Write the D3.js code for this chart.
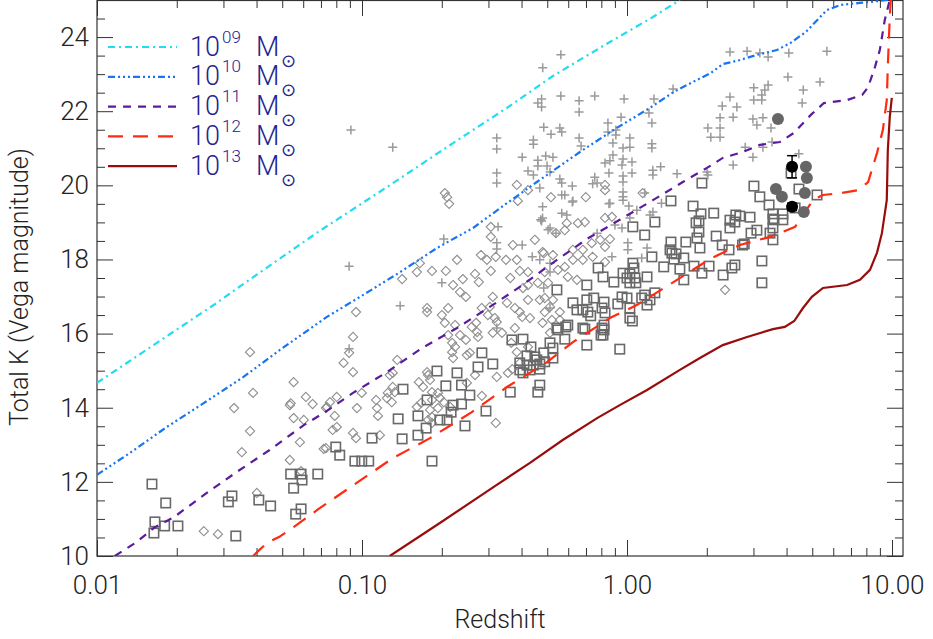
<!DOCTYPE html>
<html>
<head>
<meta charset="utf-8">
<script src="https://cdn.jsdelivr.net/npm/d3@7"></script>
<style>
  body { margin: 0; background: #fff; }
  svg text { font-family: Roboto, "DejaVu Sans", sans-serif; font-weight: 300; }
</style>
</head>
<body>
<svg id="chart" width="933" height="639"></svg>
<script>
// Redshift / total K magnitude samples.
const diamonds = [
  [0.0378,15.50],[0.0552,14.69],[0.0388,14.40],[0.0329,13.99],[0.0614,14.29],[0.0651,14.10],[0.0534,14.07],[0.0538,14.12],
  [0.0552,13.72],[0.0603,13.67],[0.0731,13.99],[0.0378,13.37],[0.0583,13.07],[0.0352,12.80],[0.0717,12.89],[0.0534,12.59],
  [0.0589,12.29],[0.0401,11.70],[0.0253,10.67],[0.0286,10.59],[0.2054,19.79],[0.2095,19.68],[0.2132,19.50],[0.3839,20.01],
  [0.423,19.87],[0.3871,19.58],[0.5164,19.68],[0.699,19.68],[0.826,20.01],[0.826,19.87],[0.826,19.12],[0.5925,18.98],
  [0.6529,18.98],[0.3062,18.88],[0.3062,18.61],[0.3198,18.07],[0.296,17.99],[0.2811,18.12],[0.2283,17.99],[0.1653,17.90],
  [0.1611,17.66],[0.1837,17.69],[0.2072,17.69],[0.1417,17.47],[0.2401,17.47],[0.267,17.61],[0.2759,17.39],[0.3062,17.69],
  [0.3493,17.99],[0.3839,17.99],[0.3707,18.39],[0.4491,18.53],[0.4851,18.17],[0.3939,17.69],[0.423,17.66],[0.3626,17.50],
  [0.2206,17.31],[0.2343,17.12],[0.2466,16.99],[0.3115,16.99],[0.2829,16.69],[0.3036,16.72],[0.3524,16.83],[0.3774,16.69],
  [0.423,16.91],[0.4049,17.23],[0.423,17.31],[0.4608,17.37],[0.4687,16.91],[0.3939,16.58],[0.4022,16.45],[0.4303,16.42],
  [0.0949,16.58],[0.176,16.69],[0.176,16.58],[0.2113,16.69],[0.2001,16.50],[0.2054,16.29],[0.2245,16.23],[0.2694,16.29],
  [0.2595,16.18],[0.2985,16.50],[0.317,16.42],[0.3225,16.31],[0.3115,16.02],[0.3375,16.02],[0.2717,16.04],[0.2113,15.96],
  [0.2343,15.96],[0.2466,15.83],[0.2188,15.75],[0.2245,15.64],[0.274,15.91],[0.3774,16.15],[0.3659,15.75],[0.3839,15.50],
  [0.2487,15.42],[0.2552,15.48],[0.2206,15.34],[0.2188,15.50],[0.423,15.64],[0.0925,15.91],[0.0894,15.48],[0.0852,15.21],
  [0.0925,14.96],[0.1358,15.29],[0.1306,14.94],[0.1273,14.88],[0.1639,14.69],[0.176,14.96],[0.1776,14.88],[0.1806,14.75],
  [0.17,14.56],[0.1837,14.42],[0.1934,14.40],[0.1967,14.26],[0.1837,14.21],[0.2035,14.15],[0.1672,14.13],[0.1611,14.02],
  [0.1806,13.94],[0.1837,13.75],[0.1934,13.99],[0.2151,14.02],[0.2834,14.32],[0.2487,14.67],[0.267,14.88],[0.3225,14.83],
  [0.3554,14.94],[0.3691,15.04],[0.3939,15.21],[0.1306,14.56],[0.133,14.42],[0.1251,14.40],[0.1241,14.26],[0.1295,14.15],
  [0.113,14.21],[0.1139,13.99],[0.1149,13.78],[0.0957,13.99],[0.0998,14.40],[0.0803,14.29],[0.0757,14.15],[0.0737,14.02],
  [0.0789,13.78],[0.0803,13.48],[0.0775,13.40],[0.0925,13.32],[0.0949,13.18],[0.1168,13.26],[0.1776,13.67],[0.1837,13.59],
  [0.3198,13.59],[0.0731,12.91],[0.8769,19.15],[0.6931,19.01],[0.5824,18.79],[0.5392,18.71],[0.8619,18.55],[0.792,18.53],
  [0.826,18.34],[0.736,18.44],[0.6813,18.26],[0.625,18.26],[0.625,17.99],[0.6813,17.99],[0.7418,18.07],[0.826,17.93],
  [0.4802,18.20],[0.5253,18.12],[0.5486,17.72],[0.5824,17.80],[0.4892,17.66],[0.5977,17.53],[0.6473,17.45],[0.5035,17.37],
  [0.4892,16.96],[0.5253,16.91],[0.5121,16.72],[0.5579,16.58],[0.4892,16.58],[0.5208,16.37],[0.5579,16.37],[0.4802,16.29],
  [0.5121,16.02],[2.344,17.18],[1.146,19.79]
];

const squares = [
  [0.01612,11.94],[0.01817,11.43],[0.01654,10.92],[0.0164,10.62],[0.0180,10.81],[0.0202,10.81],[0.0323,11.62],[0.0313,11.46],
  [0.0408,11.51],[0.0452,11.35],[0.0334,10.54],[0.0538,12.21],[0.0589,12.21],[0.0594,12.05],[0.0552,11.83],[0.0681,12.21],
  [0.0589,11.27],[0.0562,11.13],[0.3678,15.83],[0.4049,15.85],[0.434,15.64],[0.5121,15.75],[0.5253,15.61],[0.5438,16.15],
  [0.4851,15.48],[0.5253,15.34],[0.4491,15.37],[0.4194,15.40],[0.3939,15.21],[0.4194,15.15],[0.4433,15.15],[0.4687,15.18],
  [0.3939,15.02],[0.4303,15.02],[0.4687,15.04],[0.4049,14.94],[0.2834,15.48],[0.274,15.10],[0.3115,15.18],[0.1918,14.99],
  [0.2283,14.94],[0.2072,14.59],[0.2374,14.61],[0.2552,14.34],[0.2374,14.10],[0.2206,14.07],[0.2169,13.88],[0.2095,13.67],
  [0.1967,13.67],[0.176,14.21],[0.1428,14.50],[0.1626,13.78],[0.1746,13.45],[0.1369,13.70],[0.1626,13.26],[0.1417,13.16],
  [0.1091,13.18],[0.2447,13.51],[0.2936,13.91],[0.3626,14.42],[0.4687,14.61],[0.4608,14.42],[0.0796,12.94],[0.0824,12.72],
  [0.094,12.56],[0.0998,12.56],[0.106,12.56],[0.1837,12.56],[0.5824,15.85],[0.5977,16.23],[0.6931,16.12],[0.7052,15.69],
  [0.798,15.96],[0.819,16.23],[0.819,16.10],[0.939,15.58],[1.048,16.34],[0.4569,15.29],[1.917,20.06],[3.012,19.98],
  [1.465,19.58],[1.775,19.44],[3.171,19.69],[3.436,19.47],[1.901,19.23],[2.124,19.25],[1.822,18.99],[1.868,19.04],
  [2.446,19.06],[2.574,19.20],[2.912,19.14],[3.553,19.23],[3.553,19.09],[1.274,19.01],[1.052,18.88],[2.446,18.85],
  [3.091,18.79],[2.937,18.71],[1.868,18.74],[1.837,18.58],[1.166,18.66],[1.465,18.47],[1.667,18.47],[2.17,18.63],
  [2.287,18.39],[2.727,18.39],[2.77,18.42],[3.464,18.71],[3.553,18.53],[1.884,18.31],[1.453,18.26],[1.477,18.17],
  [1.531,18.15],[1.503,18.01],[1.638,18.04],[2.426,18.26],[3.228,17.96],[2.553,17.85],[2.487,17.77],[2.305,17.58],
  [2.04,17.82],[1.917,17.63],[1.79,17.82],[1.583,17.74],[1.376,17.80],[1.241,18.07],[1.052,17.90],[1.062,17.77],
  [0.966,17.63],[1.025,17.61],[1.0,17.50],[1.071,17.50],[1.025,17.37],[1.08,17.37],[0.892,17.39],[0.812,17.53],
  [0.7052,17.31],[0.778,17.77],[1.19,17.53],[1.638,17.45],[3.228,17.37],[0.5438,17.18],[0.7052,16.91],[0.749,16.96],
  [0.819,16.85],[1.0,16.96],[0.9575,16.99],[1.166,17.04],[1.274,17.10],[1.136,16.96],[1.221,16.91],[1.19,16.77],
  [0.9232,16.80],[1.025,16.69],[0.625,16.83],[0.6473,16.64],[0.6813,16.64],[0.7116,16.58],[0.8047,16.69],[0.826,16.56],
  [0.7293,16.48],[1.025,16.42],[0.6813,16.15],[0.8047,16.15],[0.812,15.96],[0.5875,16.18],[0.5486,16.10],[0.4892,15.24],
  [4.159,20.33],[4.454,19.90],[5.213,19.74],[3.873,19.23],[3.588,19.07],[3.873,19.07],[2.665,19.17],[2.553,19.01],
  [3.553,18.85],[4.308,19.39]
];

const pluses = [
  [0.0908,21.49],[0.1306,21.03],[0.5627,23.52],[0.4807,23.17],[0.5627,22.41],[0.4761,22.33],[0.4608,22.22],[0.4761,22.11],
  [0.6595,22.28],[0.7556,22.41],[0.6595,21.98],[0.4851,21.57],[0.5579,21.55],[0.5671,21.44],[0.5167,21.38],[0.3225,21.28],
  [0.3225,20.98],[0.4433,21.22],[0.4433,21.11],[0.6595,21.28],[0.6709,21.06],[0.8472,21.68],[0.9075,21.49],[0.8847,21.14],
  [0.8847,20.82],[0.4022,20.76],[0.4608,20.68],[0.4934,20.79],[0.5253,20.76],[0.4608,20.52],[0.4992,20.52],[0.423,20.39],
  [0.4433,20.28],[0.5121,20.36],[0.3225,20.33],[0.3225,20.06],[0.5579,20.17],[0.5671,20.06],[0.6216,19.98],[0.7556,20.22],
  [0.7712,20.06],[0.8258,20.60],[0.8619,20.66],[0.8547,20.33],[0.5824,19.74],[0.6216,19.55],[0.8619,19.52],[0.4802,19.42],
  [0.4761,19.04],[0.5671,19.25],[0.5925,19.20],[0.3262,18.88],[0.5121,18.85],[2.446,23.60],[2.838,23.62],[3.171,23.57],
  [3.407,23.46],[4.08,23.57],[4.047,22.92],[1.492,22.60],[0.9747,22.33],[1.264,22.33],[1.21,21.95],[1.241,21.68],
  [0.9498,21.84],[0.8472,21.44],[0.9075,21.36],[1.025,21.28],[1.025,21.03],[0.9658,21.01],[1.241,21.12],[1.241,21.01],
  [0.9658,20.71],[1.044,20.63],[0.9573,20.55],[1.044,20.33],[0.9658,20.25],[0.9658,20.09],[1.252,20.41],[1.339,20.50],
  [1.252,20.28],[1.544,20.31],[2.002,20.36],[2.019,20.28],[0.9658,19.82],[0.9658,19.69],[2.514,20.55],[2.792,21.03],
  [2.986,20.76],[3.257,21.03],[3.526,21.17],[3.008,22.63],[3.407,22.71],[3.311,22.57],[3.224,22.44],[3.008,22.30],
  [3.224,22.30],[2.446,22.38],[2.287,22.14],[2.597,22.11],[2.514,21.84],[2.244,21.82],[2.019,21.55],[2.244,21.55],
  [2.071,21.30],[2.244,21.30],[2.986,21.79],[3.257,21.82],[3.091,21.63],[3.494,21.55],[5.679,23.62],[5.346,22.79],
  [4.624,22.57],[4.58,22.22],[4.45,20.85],[0.0894,17.82],[0.2035,18.55],[0.2001,17.37],[0.1393,16.75],[0.0894,15.59],
  [0.3225,18.45],[0.3225,18.28],[0.4022,18.39],[0.4724,19.07],[0.5035,18.80],[0.5392,18.71],[0.439,18.07],[0.4687,17.99],
  [0.5121,17.90],[0.5121,17.66],[0.4851,17.23],[0.5121,16.69],[0.3225,16.15],[0.5671,19.74],[0.625,19.58],[0.7418,20.04],
  [0.9658,19.60],[0.8547,19.50],[1.016,19.44],[1.089,19.33],[1.166,19.79],[1.252,19.28],[1.349,19.52],[1.221,19.20],
  [0.9004,18.93],[1.025,19.12],[0.9573,18.85],[1.007,18.45],[1.007,18.26],[1.136,18.04],[1.19,18.31],[0.877,18.07],
  [0.7712,18.71],[0.4802,19.12],[0.4687,19.93]
];

const greyDots = [
  [3.711,21.79],[4.733,20.50],[4.771,20.20],[3.646,19.90],[3.841,19.69],[4.689,19.79],[4.646,19.28]
];

// [z, K, error]
const blackDots = [[4.196,20.50,0.30],[4.196,19.42,0.10]];

// Evolutionary tracks per halo mass
const massExp = ["09","10","11","12","13"];
const track09 = [
  [0.0100,14.67],[0.01682,15.75],[0.02833,16.83],[0.0357,17.34],[0.0692,18.77],[0.1241,19.95],[0.2206,21.14],
  [0.3524,22.09],[0.5253,22.95],[0.812,23.76],[1.252,24.54],[1.583,25.0]
];
const track10 = [
  [0.0100,12.19],[0.01331,12.78],[0.01833,13.48],[0.02535,14.13],[0.0357,14.83],[0.049,15.56],[0.0737,16.45],
  [0.0982,16.99],[0.1393,17.66],[0.1918,18.31],[0.2625,18.85],[0.3524,19.52],[0.4569,20.09],[0.6642,20.90],
  [0.9153,21.55],[1.221,22.09],[1.501,22.52],[1.774,22.79],[2.07,23.03],[2.298,23.27],[2.665,23.38],[3.091,23.52],
  [3.679,23.65],[4.134,23.84],[4.733,24.14],[5.679,24.73],[6.428,24.87],[7.567,24.92],[9.64,25.0]
];
const track11 = [
  [0.01168,10.0],[0.01413,10.38],[0.0164,10.76],[0.01954,11.05],[0.02535,11.65],[0.0337,12.27],[0.0448,12.86],
  [0.0603,13.53],[0.0717,13.86],[0.0925,14.40],[0.1241,14.96],[0.1685,15.61],[0.2283,16.15],[0.3036,16.72],
  [0.3939,17.26],[0.5438,17.99],[0.7052,18.55],[0.939,19.07],[1.252,19.60],[1.624,20.09],[2.002,20.47],[2.298,20.74],
  [2.738,20.90],[3.17,21.09],[3.776,21.17],[4.254,21.41],[4.94,21.90],[5.531,22.22],[6.767,22.30],[7.719,22.44],
  [8.125,22.65],[8.619,23.19],[8.993,23.65],[9.388,24.46],[9.805,25.0]
];
const track12 = [
  [0.0388,10.0],[0.0437,10.35],[0.0486,10.51],[0.0552,10.78],[0.0686,11.27],[0.1306,12.64],[0.1806,13.18],
  [0.2595,13.88],[0.3524,14.56],[0.4992,15.23],[0.625,15.77],[0.8619,16.42],[1.089,16.77],[1.544,17.45],[2.086,18.04],
  [2.665,18.39],[3.464,18.61],[4.308,18.88],[5.027,19.60],[5.488,19.74],[6.373,19.79],[7.435,19.87],[8.125,20.09],
  [8.773,20.87],[9.234,21.49],[9.553,22.30],[9.64,23.19],[9.805,24.54],[9.893,25.0]
];
const track13 = [
  [0.1273,10.0],[0.1967,10.89],[0.3225,11.92],[0.4303,12.51],[0.5721,13.13],[0.7712,13.72],[0.939,14.07],
  [1.19,14.48],[1.583,15.02],[1.884,15.34],[2.298,15.69],[2.838,15.91],[3.553,16.12],[3.939,16.18],[4.276,16.34],
  [4.613,16.69],[4.983,16.99],[5.488,17.23],[6.767,17.31],[7.567,17.45],[8.257,17.72],[8.773,18.18],[9.158,18.71],
  [9.553,19.60],[9.64,20.95],[9.805,21.84],[9.98,22.36]
];

const xMajor = [0.01, 0.1, 1, 10];
const yMajor = [10, 12, 14, 16, 18, 20, 22, 24];

const tracks = [
  { data: track09, color: "#22dcf0", dash: "7,4,2,4" },
  { data: track10, color: "#1874f0", dash: "7,3,2,3,2,3,2,3" },
  { data: track11, color: "#5a1c9c", dash: "8,7" },
  { data: track12, color: "#ff2a10", dash: "15,10" },
  { data: track13, color: "#990c0c", dash: null }
];

const frame = { left: 97, right: 903, top: 0, bottom: 556 };

const x = d3.scaleLog().domain([0.01, 11]).range([frame.left, frame.right]);
const y = d3.scaleLinear().domain([10, 25]).range([frame.bottom, frame.top]);

const svg = d3.select("#chart");

svg.append("defs").append("clipPath").attr("id", "plot-clip")
  .append("rect")
  .attr("x", frame.left).attr("y", frame.top)
  .attr("width", frame.right - frame.left).attr("height", frame.bottom - frame.top);

// minor tick values
let xMinor = [];
[0.01, 0.1, 1].forEach(d => { for (let m = 2; m <= 9; m++) xMinor.push(d * m); });
let yMinor = d3.range(10, 25.01, 0.5).filter(v => v % 2 !== 0);

const tickColor = "#333";

function styleAxis(g) {
  g.select(".domain").remove();
  g.selectAll(".tick line").attr("stroke", tickColor);
  g.attr("font-size", 26).attr("font-family", null).attr("color", "#222");
}

// bottom
svg.append("g").attr("transform", `translate(0,${frame.bottom})`)
  .call(d3.axisBottom(x).tickValues(xMinor).tickSize(-8).tickFormat(""))
  .call(styleAxis);
svg.append("g").attr("transform", `translate(0,${frame.bottom})`)
  .call(d3.axisBottom(x).tickValues(xMajor).tickSize(-16).tickPadding(20).tickFormat(d3.format(".2f")))
  .call(styleAxis);
// top
svg.append("g").attr("transform", `translate(0,${frame.top})`)
  .call(d3.axisTop(x).tickValues(xMinor).tickSize(-8).tickFormat(""))
  .call(styleAxis);
svg.append("g").attr("transform", `translate(0,${frame.top})`)
  .call(d3.axisTop(x).tickValues(xMajor).tickSize(-16).tickFormat(""))
  .call(styleAxis);
// left
svg.append("g").attr("transform", `translate(${frame.left},0)`)
  .call(d3.axisLeft(y).tickValues(yMinor).tickSize(-8).tickFormat(""))
  .call(styleAxis);
svg.append("g").attr("transform", `translate(${frame.left},0)`)
  .call(d3.axisLeft(y).tickValues(yMajor).tickSize(-16).tickPadding(8).tickFormat(d3.format("d")))
  .call(styleAxis);
// right
svg.append("g").attr("transform", `translate(${frame.right},0)`)
  .call(d3.axisRight(y).tickValues(yMinor).tickSize(-8).tickFormat(""))
  .call(styleAxis);
svg.append("g").attr("transform", `translate(${frame.right},0)`)
  .call(d3.axisRight(y).tickValues(yMajor).tickSize(-16).tickFormat(""))
  .call(styleAxis);

svg.append("rect")
  .attr("x", frame.left).attr("y", frame.top + 0.5)
  .attr("width", frame.right - frame.left).attr("height", frame.bottom - frame.top - 0.5)
  .attr("fill", "none").attr("stroke", "#333").attr("stroke-width", 1.2);

// axis titles
svg.append("text")
  .attr("x", (frame.left + frame.right) / 2).attr("y", 628)
  .attr("text-anchor", "middle").attr("font-size", 25).attr("fill", "#222")
  .text("Redshift");

svg.append("text")
  .attr("transform", "translate(28,287) rotate(-90)")
  .attr("text-anchor", "middle").attr("font-size", 25).attr("fill", "#222")
  .text("Total K (Vega magnitude)");

const plot = svg.append("g").attr("clip-path", "url(#plot-clip)");

// diamonds
plot.append("g").selectAll("path")
  .data(diamonds)
  .enter().append("path")
  .attr("d", "M0,-4.6L4.6,0L0,4.6L-4.6,0Z")
  .attr("transform", d => `translate(${x(d[0])},${y(d[1])})`)
  .attr("fill", "none").attr("stroke", "#8e8e8e").attr("stroke-width", 1.1);

// squares
plot.append("g").selectAll("rect")
  .data(squares)
  .enter().append("rect")
  .attr("x", d => x(d[0]) - 4.7).attr("y", d => y(d[1]) - 4.7)
  .attr("width", 9.4).attr("height", 9.4)
  .attr("fill", "none").attr("stroke", "#696969").attr("stroke-width", 1.6);

// pluses
plot.append("g").selectAll("path")
  .data(pluses)
  .enter().append("path")
  .attr("d", "M-4.5,0H4.5M0,-4.5V4.5")
  .attr("transform", d => `translate(${x(d[0])},${y(d[1])})`)
  .attr("fill", "none").attr("stroke", "#9a9a9a").attr("stroke-width", 1.5);

// tracks
const line = d3.line().x(d => x(d[0])).y(d => y(d[1]));
plot.append("g").selectAll("path")
  .data(tracks)
  .enter().append("path")
  .attr("d", d => line(d.data))
  .attr("fill", "none")
  .attr("stroke", d => d.color)
  .attr("stroke-width", 2.2)
  .attr("stroke-dasharray", d => d.dash);

// grey filled dots
plot.append("g").selectAll("circle")
  .data(greyDots)
  .enter().append("circle")
  .attr("cx", d => x(d[0])).attr("cy", d => y(d[1]))
  .attr("r", 6).attr("fill", "#666");

// black dots with error bars
const bd = plot.append("g").selectAll("g")
  .data(blackDots)
  .enter().append("g");
bd.append("line")
  .attr("x1", d => x(d[0])).attr("x2", d => x(d[0]))
  .attr("y1", d => y(d[1] - d[2])).attr("y2", d => y(d[1] + d[2]))
  .attr("stroke", "#000").attr("stroke-width", 1.5);
bd.append("line")
  .attr("x1", d => x(d[0]) - 5).attr("x2", d => x(d[0]) + 5)
  .attr("y1", d => y(d[1] + d[2])).attr("y2", d => y(d[1] + d[2]))
  .attr("stroke", "#000").attr("stroke-width", 1.5);
bd.append("line")
  .attr("x1", d => x(d[0]) - 5).attr("x2", d => x(d[0]) + 5)
  .attr("y1", d => y(d[1] - d[2])).attr("y2", d => y(d[1] - d[2]))
  .attr("stroke", "#000").attr("stroke-width", 1.5);
bd.append("circle")
  .attr("cx", d => x(d[0])).attr("cy", d => y(d[1]))
  .attr("r", 6).attr("fill", "#000");

// legend
const legend = svg.append("g").attr("class", "legend");
const rowY = i => 47 + i * 29.8;

legend.selectAll("line")
  .data(tracks)
  .enter().append("line")
  .attr("x1", 108).attr("x2", 177)
  .attr("y1", (d, i) => rowY(i)).attr("y2", (d, i) => rowY(i))
  .attr("stroke", d => d.color)
  .attr("stroke-width", 2.2)
  .attr("stroke-dasharray", d => d.dash);

const lt = legend.selectAll("g.entry")
  .data(massExp)
  .enter().append("g").attr("class", "entry")
  .attr("fill", "#232391");
// "10" with superscript exponent
const num = lt.append("text")
  .attr("y", (d, i) => rowY(i) + 8.5)
  .attr("font-size", 27);
num.append("tspan").attr("x", 190).text("10");
num.append("tspan").attr("x", 222).attr("dy", -13).attr("font-size", 17).text(d => d);
// "M" with subscript solar symbol
const unit = lt.append("text")
  .attr("y", (d, i) => rowY(i) + 8.5)
  .attr("font-size", 27);
unit.append("tspan").attr("x", 256).text("M");
unit.append("tspan").attr("x", 281).attr("dy", 11).attr("font-size", 18).text("\u2299");
</script>
</body>
</html>
